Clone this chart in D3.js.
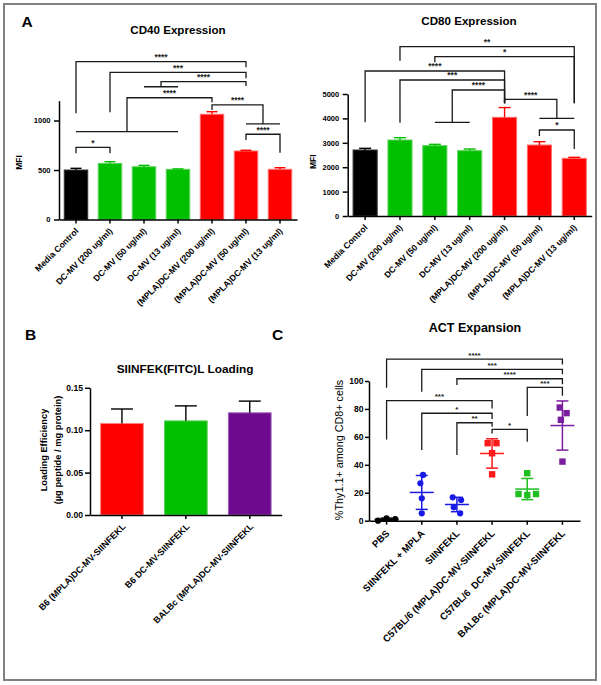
<!DOCTYPE html>
<html><head><meta charset="utf-8">
<script src="https://cdn.jsdelivr.net/npm/d3@7"></script>
<style>
body{margin:0;background:#fff}
svg{display:block}
text{font-family:Arial,"Liberation Sans",sans-serif}
</style>
</head><body>
<svg id="c" width="601" height="685"></svg>
<script>
// ---------- DATA ----------
const cd40Categories = ["Media Control","DC-MV (200 ug/ml)","DC-MV (50 ug/ml)","DC-MV (13 ug/ml)","(MPLA)DC-MV (200 ug/ml)","(MPLA)DC-MV (50 ug/ml)","(MPLA)DC-MV (13 ug/ml)"];
const cd40Values = [500, 567, 533, 507, 1063, 692, 507];
const cd40Errors = [17, 17, 14, 4, 26, 7, 16];
const cd40Ticks = [0, 500, 1000];
const cd40Brackets = [
  {a:0, b:5, y:1594, ya:1073, yb:1537, t:"****"},
  {a:1, b:5, y:1487, ya:1083, yb:1426, t:"***"},
  {a:[2,3], b:5, y:1392, ya:1341, yb:1348, t:"****"},
  {a:[0,3], b:4, y:1230, ya:887, yb:1184, t:"****"},
  {a:4, b:[5,6], y:1157, ya:1106, yb:965, t:"****"},
  {a:5, b:6, y:861, ya:803, yb:675, t:"****"},
  {a:0, b:1, y:729, ya:669, yb:669, t:"*"}
];

const cd80Categories = cd40Categories;
const cd80Values = [2705, 3115, 2883, 2678, 4044, 2910, 2363];
const cd80Errors = [68, 95, 54, 68, 400, 136, 41];
const cd80Ticks = [0, 1000, 2000, 3000, 4000, 5000];
const cd80Brackets = [
  {a:1, b:6, y:6939, ya:6365, yb:4619, t:"**"},
  {a:2, b:6, y:6529, ya:6299, yb:4619, t:"*"},
  {a:0, b:4, y:5943, ya:3840, yb:4619, t:"****"},
  {a:1, b:4, y:5574, ya:3824, yb:4619, t:"***"},
  {a:[2,3], b:4, y:5164, ya:3840, yb:4619, t:"****"},
  {a:4, b:[5,6], y:4783, ya:4619, yb:4004, t:"****"},
  {a:5, b:6, y:3525, ya:3279, yb:2746, t:"*"}
];

const loadingCategories = ["B6 (MPLA)DC-MV-SIINFEKL","B6 DC-MV-SIINFEKL","BALBc (MPLA)DC-MV-SIINFEKL"];
const loadingValues = [0.108, 0.111, 0.1205];
const loadingErrors = [0.017, 0.0177, 0.0138];
const loadingTicks = [0, 0.05, 0.10, 0.15];

const actCategories = ["PBS","SIINFEKL + MPLA","SIINFEKL","C57BL/6 (MPLA)DC-MV-SIINFEKL","C57BL/6\u00a0 DC-MV-SIINFEKL","BALBc (MPLA)DC-MV-SIINFEKL"];
const actPBS = [0.0, 1.7, 1.2];
const actSiinMpla = [26.8, 32.8, 16.0, 5.3];
const actSiin = [16.7, 14.8, 9.6, 5.3];
const actMplaDcmv = [55.5, 55.5, 48.3, 33.2];
const actDcmv = [34.0, 19.1, 19.1, 18.4];
const actBalbc = [81.0, 77.0, 72.2, 42.3];
const actTicks = [0, 20, 40, 60, 80, 100];
const actBrackets = [
  {a:0, b:5, y:115.7, ya:95.2, yb:111.9, t:"****"},
  {a:1, b:5, y:108.3, ya:92.3, yb:104.8, t:"***"},
  {a:2, b:5, y:101.6, ya:97.1, yb:97.6, t:"****"},
  {a:4, b:5, y:95.5, ya:74.9, yb:89.4, t:"***"},
  {a:0, b:3, y:85.9, ya:58.2, yb:80.4, t:"***"},
  {a:1, b:3, y:76.9, ya:50.6, yb:72.8, t:"*"},
  {a:2, b:3, y:70.1, ya:47.0, yb:67.3, t:"**"},
  {a:3, b:4, y:65.4, ya:62.5, yb:56.5, t:"*"}
];

// ---------- STYLE ----------
const FONT = 'Arial, "Liberation Sans", sans-serif';
const abColors = ["#000000","#00c000","#00c000","#00c000","#ff0000","#ff0000","#ff0000"];
const abEdge = ["#333333","#5fd35f","#5fd35f","#5fd35f","#ff7070","#ff7070","#ff7070"];
const loadColors = ["#ff0000","#00c000","#6e0a8e"];
const loadEdge = ["#ff8080","#60d060","#a060c0"];
const actColors = ["#000000","#1a1ae6","#1a1ae6","#ff1a1a","#1fbf1f","#7a1ea0"];
const actShapes = ["circle","circle","circle","square","square","square"];

const svg = d3.select("#c");
svg.append("rect").attr("x",4).attr("y",4).attr("width",592).attr("height",676)
  .attr("fill","none").attr("stroke","#808080").attr("stroke-width",2);

function styleAxis(g, fs){
  g.attr("font-family", FONT).attr("font-size", fs).attr("font-weight","bold");
  g.select(".domain").attr("stroke","#000").attr("stroke-width",1.5);
  g.selectAll(".tick line").attr("stroke","#000").attr("stroke-width",1.5);
  g.selectAll(".tick text").attr("fill","#000");
}

function drawBrackets(g, brackets, cx, y, fs){
  const px = a => Array.isArray(a) ? (cx(a[0]) + cx(a[1]))/2 : cx(a);
  brackets.forEach(b => {
    const xa = px(b.a), xb = px(b.b), yy = y(b.y);
    g.append("path").attr("d", `M${xa},${y(b.ya)}V${yy}H${xb}V${y(b.yb)}`)
      .attr("fill","none").attr("stroke","#1a1a1a").attr("stroke-width",1.3);
    if (Array.isArray(b.a)) g.append("line").attr("x1",cx(b.a[0])).attr("x2",cx(b.a[1]))
      .attr("y1",y(b.ya)).attr("y2",y(b.ya)).attr("stroke","#1a1a1a").attr("stroke-width",1.3);
    if (Array.isArray(b.b)) g.append("line").attr("x1",cx(b.b[0])).attr("x2",cx(b.b[1]))
      .attr("y1",y(b.yb)).attr("y2",y(b.yb)).attr("stroke","#1a1a1a").attr("stroke-width",1.3);
    g.append("text").attr("x",(xa+xb)/2).attr("y",yy-1.5).attr("text-anchor","middle")
      .attr("font-family",FONT).attr("font-size",fs).attr("font-weight","bold").attr("fill","#222").text(b.t);
  });
}

function xAxisRotated(g, xb, y0, fs, dx, dy){
  const ax = g.append("g").attr("transform",`translate(0,${y0})`)
    .call(d3.axisBottom(xb).tickSize(4).tickSizeOuter(0));
  styleAxis(ax, fs);
  ax.selectAll(".tick text").attr("text-anchor","end").attr("x",dx).attr("y",dy).attr("dy","0.35em")
    .attr("transform",`rotate(-45,${dx},${dy})`).style("white-space","pre");
  return ax;
}

function barPanel(o){
  const g = svg.append("g");
  const x = d3.scaleBand().domain(o.cats).range(o.xr).paddingInner(o.pad).paddingOuter(o.pad/2);
  const y = d3.scaleLinear().domain(o.ydom).range(o.yr);
  const cx = i => x(o.cats[i]) + x.bandwidth()/2;
  const idx = d3.range(o.cats.length);
  g.selectAll("rect.bar").data(idx).join("rect").attr("class","bar")
    .attr("x", i => x(o.cats[i]) + 0.5).attr("width", x.bandwidth() - 1)
    .attr("y", i => y(o.vals[i])).attr("height", i => y(0) - y(o.vals[i]))
    .attr("fill", i => o.colors[i]).attr("stroke", i => o.edge[i]).attr("stroke-width", 1);
  idx.forEach(i => {
    const c = o.errColors ? o.errColors[i] : o.colors[i];
    const top = y(o.vals[i] + o.errs[i]);
    g.append("line").attr("x1",cx(i)).attr("x2",cx(i)).attr("y1",y(o.vals[i])).attr("y2",top)
      .attr("stroke",c).attr("stroke-width",1.4);
    g.append("line").attr("x1",cx(i)-o.capW/2).attr("x2",cx(i)+o.capW/2).attr("y1",top).attr("y2",top)
      .attr("stroke",c).attr("stroke-width",1.4);
  });
  const ay = g.append("g").attr("transform",`translate(${o.xr[0]},0)`)
    .call(d3.axisLeft(y).tickValues(o.ticks).tickFormat(o.fmt).tickSize(5).tickSizeOuter(0).tickPadding(o.tp));
  styleAxis(ay, o.tickFont);
  xAxisRotated(g, x, y(0), o.xFont, o.ldx, o.ldy);
  if (o.brackets) drawBrackets(g, o.brackets, cx, y, o.starFont);
  return g;
}

function txt(x, y, s, fs, opts={}){
  const t = svg.append("text").attr("x",x).attr("y",y).attr("font-family",FONT).attr("font-size",fs)
    .attr("font-weight", opts.weight || "bold").attr("fill","#000")
    .attr("text-anchor", opts.anchor || "middle").text(s);
  if (opts.rot) t.attr("transform",`rotate(${opts.rot},${x},${y})`);
  return t;
}

// ---------- PANEL A: CD40 ----------
txt(21.5, 26.7, "A", 15.5, {anchor:"start"});
txt(178, 34, "CD40 Expression", 11.6);
barPanel({cats:cd40Categories, vals:cd40Values, errs:cd40Errors, colors:abColors, edge:abEdge,
  xr:[59,297], pad:0.28, ydom:[0,1200], yr:[219.5,100.7], ticks:cd40Ticks, fmt:d3.format("d"), tp:3.5,
  tickFont:7.5, xFont:8.6, ldx:1, ldy:10, capW:11, brackets:cd40Brackets, starFont:8.5});
txt(21.5, 162.5, "MFI", 8.5, {rot:-90});

// ---------- PANEL A: CD80 ----------
txt(469, 25, "CD80 Expression", 11.6);
barPanel({cats:cd80Categories, vals:cd80Values, errs:cd80Errors, colors:abColors, edge:abEdge,
  xr:[347.7,591.7], pad:0.28, ydom:[0,5000], yr:[216,94], ticks:cd80Ticks, fmt:d3.format("d"), tp:3.5,
  tickFont:7.5, xFont:8.6, ldx:1, ldy:10, capW:12, brackets:cd80Brackets, starFont:8.5});
txt(316.5, 161.7, "MFI", 8.5, {rot:-90});

// ---------- PANEL B ----------
txt(25, 340, "B", 15.5, {anchor:"start"});
txt(185, 372.5, "SIINFEK(FITC)L Loading", 11.8);
barPanel({cats:loadingCategories, vals:loadingValues, errs:loadingErrors, colors:loadColors, edge:loadEdge,
  errColors:["#000","#000","#000"],
  xr:[90,281.7], pad:0.316, ydom:[0,0.15], yr:[515,387.8], ticks:loadingTicks, fmt:d3.format(".2f"), tp:2,
  tickFont:8.6, xFont:9, ldx:2, ldy:10, capW:22});
txt(47, 450, "Loading Efficiency", 9.3, {rot:-90});
txt(61, 450, "(\u00b5g peptide / mg protein)", 9.3, {rot:-90});

// ---------- PANEL C ----------
txt(272, 340, "C", 15.5, {anchor:"start"});
txt(475, 332, "ACT Expansion", 12.5);
(function(){
  const g = svg.append("g");
  const groups = [actPBS, actSiinMpla, actSiin, actMplaDcmv, actDcmv, actBalbc];
  const x = d3.scaleBand().domain(actCategories).range([369,580]);
  const y = d3.scaleLinear().domain([0,100]).range([520.7,381]);
  const cx = i => x(actCategories[i]) + x.bandwidth()/2;
  groups.forEach((vals, i) => {
    const c = actColors[i], m = d3.mean(vals), sd = d3.deviation(vals);
    const xc = cx(i);
    g.append("line").attr("x1",xc).attr("x2",xc).attr("y1",y(m-sd)).attr("y2",y(m+sd)).attr("stroke",c).attr("stroke-width",1.5);
    [m-sd, m+sd].forEach(v => g.append("line").attr("x1",xc-6).attr("x2",xc+6).attr("y1",y(v)).attr("y2",y(v)).attr("stroke",c).attr("stroke-width",1.5));
    g.append("line").attr("x1",xc-12).attr("x2",xc+12).attr("y1",y(m)).attr("y2",y(m)).attr("stroke",c).attr("stroke-width",1.5);
    const nodes = vals.map((v,k) => ({v, x: xc + (k - (vals.length-1)/2) * 0.8, fy: y(v)}));
    const sim = d3.forceSimulation(nodes).force("x", d3.forceX(xc).strength(0.05))
      .force("c", d3.forceCollide(4.4).iterations(4)).stop();
    for (let t = 0; t < 300; t++) sim.tick();
    nodes.forEach(n => {
      if (actShapes[i] === "circle") g.append("circle").attr("cx",n.x).attr("cy",y(n.v)).attr("r",3.1).attr("fill",c);
      else g.append("rect").attr("x",n.x-3.2).attr("y",y(n.v)-3.2).attr("width",6.4).attr("height",6.4).attr("fill",c);
    });
  });
  const ay = g.append("g").attr("transform","translate(369,0)")
    .call(d3.axisLeft(y).tickValues(actTicks).tickSize(4).tickSizeOuter(0).tickPadding(1.5));
  styleAxis(ay, 8.6);
  xAxisRotated(g, x, y(0), 9.7, 1, 11);
  drawBrackets(g, actBrackets, cx, y, 8);
})();
txt(343, 450, "%Thy1.1+ among CD8+ cells", 10.8, {rot:-90, weight:"normal"});
</script>
</body></html>
